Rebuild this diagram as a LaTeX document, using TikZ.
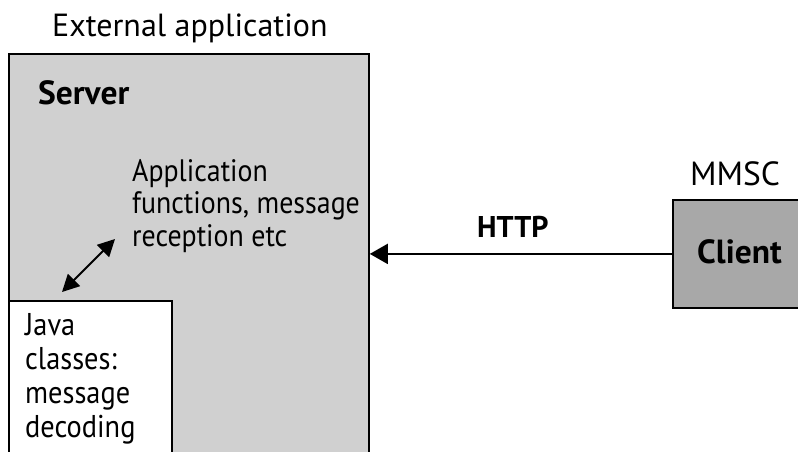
\documentclass[tikz,border=0pt]{standalone}
\usepackage{fontspec}
\setmainfont{PT Sans}
\newfontfamily\bodyfont[FakeStretch=0.9]{PT Sans}
\usetikzlibrary{arrows.meta}
\definecolor{serverfill}{RGB}{208,208,208}
\definecolor{clientfill}{RGB}{168,168,168}
\tikzset{
  box/.style={draw=black, line width=1.8pt, inner sep=0pt, anchor=north west},
  txt/.style={inner sep=0pt, anchor=base west, align=left},
  bodytxt/.style={txt, font=\bodyfont\fontsize{31}{32.5}\selectfont},
  captxt/.style={txt, font=\fontsize{32}{36}\selectfont},
  boldtxt/.style={txt, font=\fontsize{33.5}{36}\selectfont\bfseries},
  link/.style={line width=1.8pt, -{Triangle[length=18pt,width=20pt]}},
  duplex/.style={line width=1.8pt, {Triangle[length=17pt,width=17pt]}-{Triangle[length=17pt,width=17pt]}}
}
\begin{document}
\begin{tikzpicture}[x=1pt,y=-1pt]
  \useasboundingbox (0,0) rectangle (798,451);
  \clip (0,0) rectangle (798,451);
  \fill[white] (0,0) rectangle (798,451);
  % boxes
  \node[box, fill=serverfill, minimum width=360pt, minimum height=430pt] (server) at (8,53) {};
  \node[box, fill=white, minimum width=163pt, minimum height=180pt] (java) at (8,300) {};
  \node[box, fill=clientfill, minimum width=150pt, minimum height=108pt] (client) at (672,199) {};
  % texts (multi-line nodes are placed by the baseline of their last line)
  \node[captxt] (ext) at (52,36) {External application};
  \node[boldtxt] (srvlabel) at (38,104) {Server};
  \node[bodytxt] (app) at (132,246) {Application\\functions, message\\reception etc};
  \node[bodytxt, font=\bodyfont\fontsize{31.5}{34}\selectfont] (javatxt) at (25,437) {Java\\classes:\\message\\decoding};
  \node[captxt, font=\fontsize{33.5}{36}\selectfont] (mmsc) at (690,185) {MMSC};
  \node[boldtxt] (clientlabel) at (697,263) {Client};
  \node[boldtxt, font=\fontsize{30}{36}\selectfont\bfseries] (http) at (477,237) {HTTP};
  % connectors
  \coordinate (javatip) at (62,292);
  \coordinate (apptip) at (115,239);
  \draw[duplex] (javatip) -- (apptip);
  \draw[link] (client.west) -- (server.east |- client.west);
\end{tikzpicture}
\end{document}
